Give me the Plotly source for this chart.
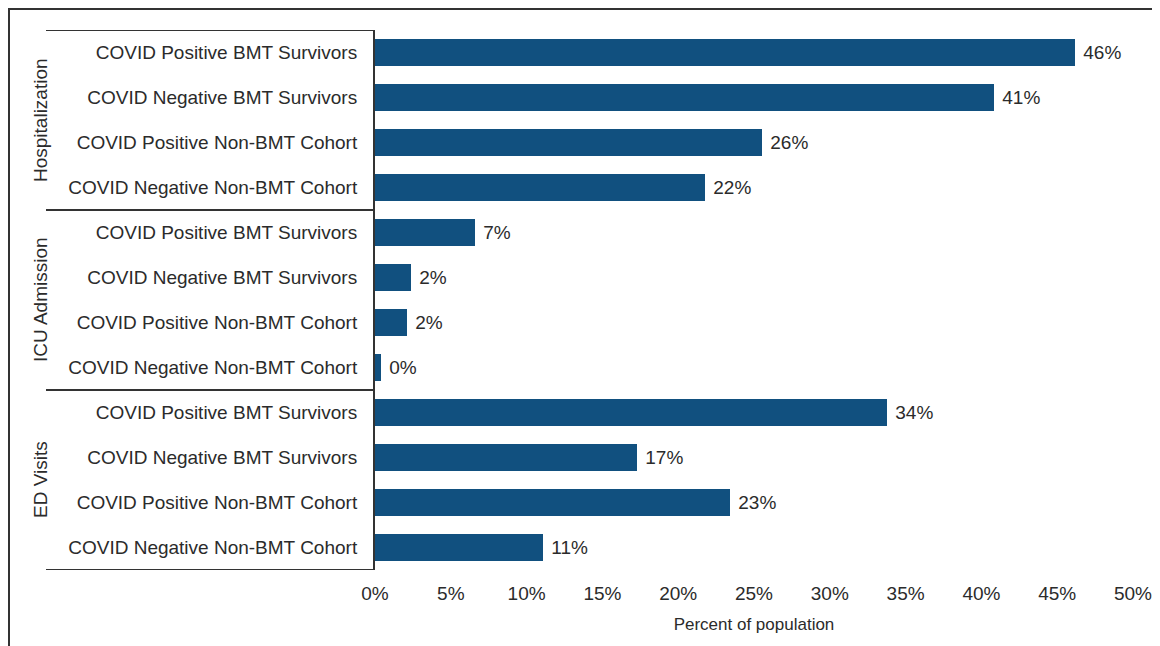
import plotly.graph_objects as go

categories = [
    "COVID Positive BMT Survivors",
    "COVID Negative BMT Survivors",
    "COVID Positive Non-BMT Cohort",
    "COVID Negative Non-BMT Cohort",
] * 3
groups = ["Hospitalization", "ICU Admission", "ED Visits"]
values = [46.2, 40.8, 25.5, 21.8, 6.6, 2.4, 2.1, 0.4, 33.8, 17.3, 23.4, 11.1]
value_labels = ["46%", "41%", "26%", "22%", "7%", "2%", "2%", "0%", "34%", "17%", "23%", "11%"]
x_ticks = [0, 5, 10, 15, 20, 25, 30, 35, 40, 45, 50]
x_tick_labels = [f"{t}%" for t in x_ticks]

W, H = 1160, 646
OFF = 8  # page body margin
ML, MT = 375 - OFF, 30 - OFF
pw = 758
ph = 540
MR = W - ML - pw
MB = H - MT - ph

def px_x(p):  # screenshot pixel -> paper x
    return (p - OFF - ML) / pw

def px_y(p):  # screenshot pixel -> paper y
    return (H - MB - (p - OFF)) / ph

font_main = "Liberation Sans, Arial, sans-serif"
txt_color = "#2b2b2b"
line_color = "#333333"

fig = go.Figure()
fig.add_trace(go.Bar(
    x=values,
    y=list(range(len(values))),
    orientation="h",
    marker=dict(color="#11507f", line=dict(width=0)),
    width=0.58,
    text=value_labels,
    texttemplate=" %{text}",
    textposition="outside",
    textfont=dict(family=font_main, size=19, color=txt_color),
    cliponaxis=False,
    hoverinfo="skip",
))

shapes = []
for yv in [-0.5, 3.5, 7.5, 11.5]:
    shapes.append(dict(type="line", xref="paper", yref="y", x0=px_x(46), x1=0, y0=yv, y1=yv,
                       line=dict(color=line_color, width=2)))
shapes.append(dict(type="line", xref="paper", yref="paper", x0=px_x(9), x1=px_x(9),
                   y0=px_y(8), y1=px_y(660), line=dict(color=line_color, width=2)))
shapes.append(dict(type="line", xref="paper", yref="paper", x0=px_x(8), x1=px_x(1170),
                   y0=px_y(9), y1=px_y(9), line=dict(color=line_color, width=2)))

annotations = []
for i, g in enumerate(groups):
    annotations.append(dict(
        text=g, xref="paper", yref="y", x=px_x(40), y=i * 4 + 1.5,
        textangle=-90, showarrow=False, xanchor="center", yanchor="middle",
        font=dict(family=font_main, size=19, color=txt_color),
    ))

fig.update_layout(
    width=W, height=H,
    margin=dict(l=ML, r=MR, t=MT, b=MB),
    paper_bgcolor="white", plot_bgcolor="white",
    showlegend=False,
    bargap=0,
    shapes=shapes,
    annotations=annotations,
    xaxis=dict(
        range=[0, 50], tickvals=x_ticks, ticktext=x_tick_labels,
        showgrid=False, zeroline=False, showline=False, ticks="",
        ticklabelstandoff=10,
        tickfont=dict(family=font_main, size=19, color=txt_color),
        title=dict(text="Percent of population", standoff=15,
                   font=dict(family="Liberation Sans Narrow, Liberation Sans, sans-serif",
                             size=17, color=txt_color)),
    ),
    yaxis=dict(
        range=[11.5, -0.5], tickvals=list(range(len(categories))), ticktext=categories,
        showgrid=False, zeroline=False, showline=True, linecolor=line_color, linewidth=2,
        ticks="", ticklabelstandoff=12,
        tickfont=dict(family=font_main, size=19, color=txt_color),
    ),
)

fig.write_html("out.html")
